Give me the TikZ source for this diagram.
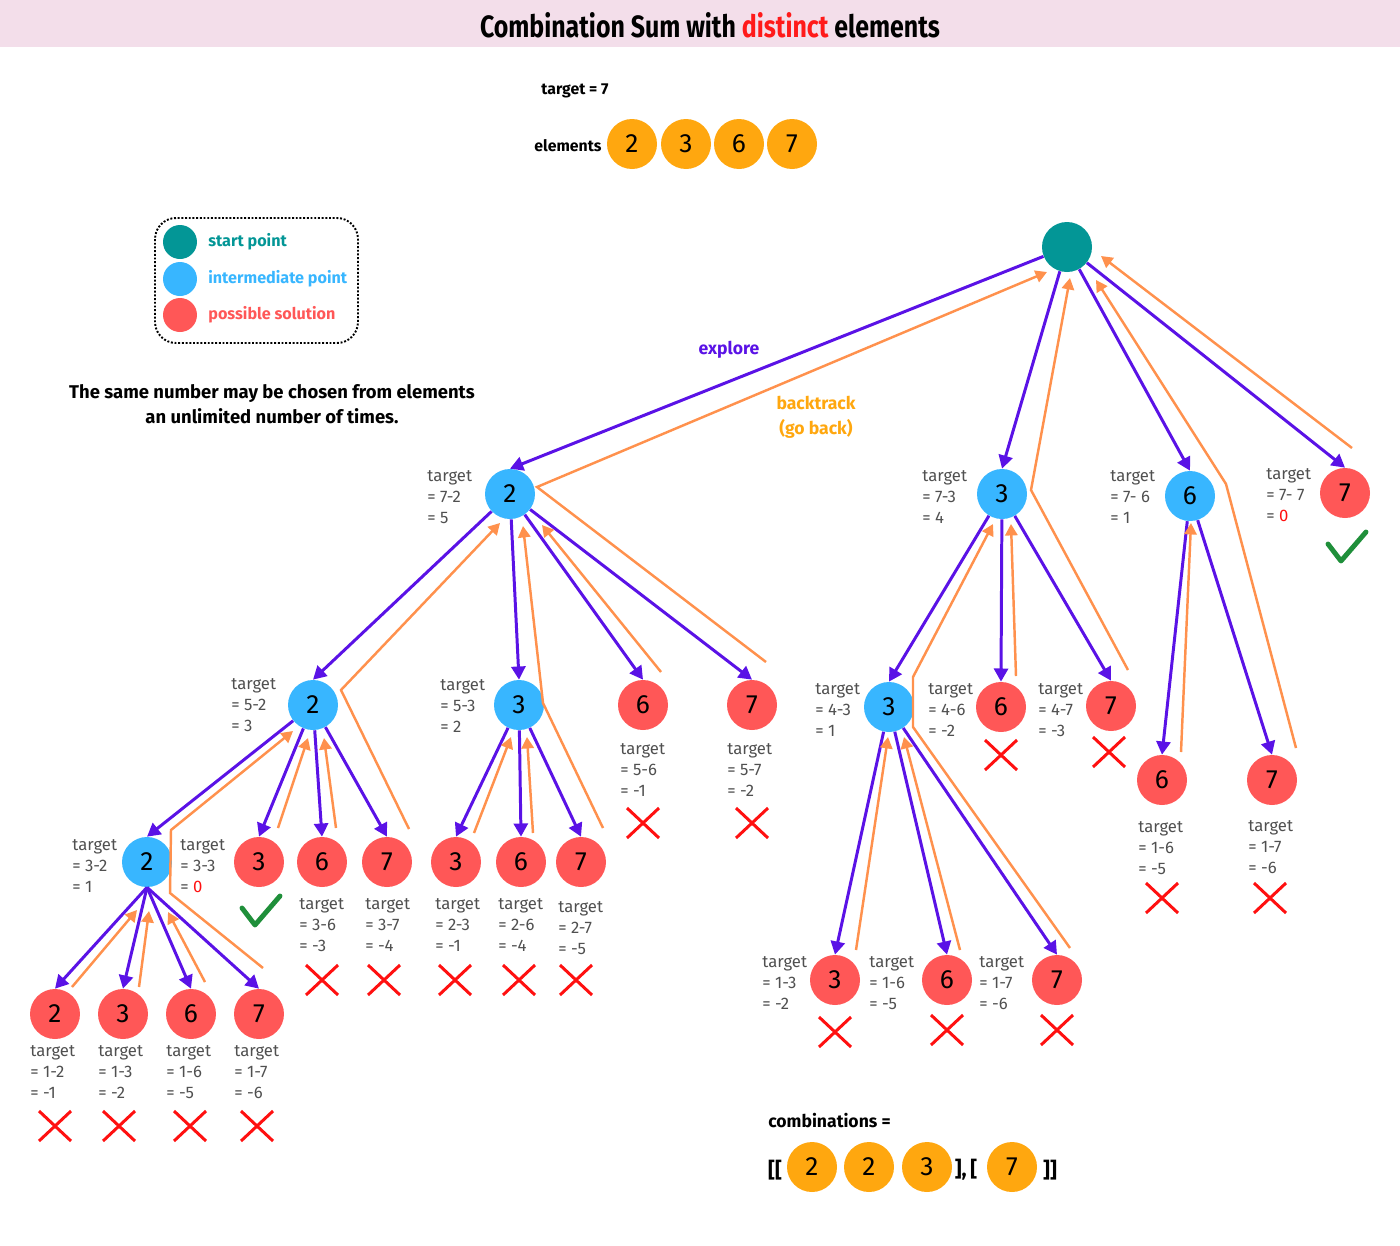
\documentclass[tikz,border=0pt]{standalone}
\usepackage{fontspec}
\setmainfont{Fira Sans}
\usetikzlibrary{arrows.meta}
\definecolor{teal0}{HTML}{039696}
\definecolor{blue0}{HTML}{38B6FF}
\definecolor{red0}{HTML}{FF5757}
\definecolor{elem}{HTML}{FFA70F}
\definecolor{purp}{HTML}{5A12E6}
\definecolor{oran}{HTML}{FF914D}
\definecolor{gray0}{HTML}{505050}
\definecolor{pinkbg}{HTML}{F3DEEA}
\definecolor{chk}{HTML}{1F8F3A}
\definecolor{xred}{HTML}{FF1010}
\definecolor{tred}{HTML}{FF1A1A}
\begin{document}
\begin{tikzpicture}[x=0.02cm,y=-0.02cm,
  num/.style={circle, minimum size=1cm, inner sep=0pt, font=\fontsize{15}{15}\selectfont},
  startpt/.style={num, fill=teal0},
  inter/.style={num, fill=blue0},
  sol/.style={num, fill=red0},
  elemc/.style={num, fill=elem},
  legc/.style={circle, minimum size=0.68cm, inner sep=0pt},
  explore/.style={draw=purp, line width=1.7pt, -{Triangle[length=7.5pt,width=8pt]}},
  back/.style={draw=oran, line width=1.4pt, line join=miter, -{Triangle[length=6.5pt,width=7pt]}},
  lbl/.style={text=gray0, align=left, anchor=west, inner sep=0pt, font=\fontsize{9.5}{11.9}\selectfont},
  txt/.style={inner sep=0pt, font=\bfseries\fontsize{10}{12}\selectfont},
  xm/.pic={\draw[xred, line width=1.7pt] (-16,-15) -- (16,15) (-16,15) -- (16,-15);},
  ck/.pic={\draw[chk, line width=2.8pt, line cap=round, line join=round] (-19,-2) -- (-6,15) -- (19,-14);}
]
\useasboundingbox (0,0) rectangle (1400,1245);
% title band
\fill[pinkbg] (0,0) rectangle (1400,47);
\node[inner sep=0pt] (title) at (710,25) {\resizebox{9.2cm}{0.5cm}{\bfseries Combination Sum with \textcolor{tred}{distinct} elements}};

% header
\node[txt, text=black, font=\bfseries\fontsize{9}{11}\selectfont] (tgt) at (575,91) {target = 7};
\node[txt, text=black, font=\bfseries\fontsize{9}{11}\selectfont] (elt) at (568,146) {elements};
\node[elemc] (el1) at (632,144) {2};
\node[elemc] (el2) at (686,144) {3};
\node[elemc] (el3) at (739,144) {6};
\node[elemc] (el4) at (792,144) {7};

% legend
\draw[densely dotted, line width=1.1pt, rounded corners=12pt] (155,218) rectangle (358,343);
\node[legc, fill=teal0] (lg1) at (180,242) {};
\node[legc, fill=blue0] (lg2) at (180,279) {};
\node[legc, fill=red0] (lg3) at (180,315) {};
\node[txt, anchor=west, text=teal0, font=\bfseries\fontsize{9.2}{11}\selectfont] (lt1) at (208,242) {start point};
\node[txt, anchor=west, text=blue0, font=\bfseries\fontsize{9.2}{11}\selectfont] (lt2) at (208,279) {intermediate point};
\node[txt, anchor=west, text=red0, font=\bfseries\fontsize{9.2}{11}\selectfont] (lt3) at (208,315) {possible solution};

\node[inner sep=0pt, align=center, font=\bfseries\fontsize{10.5}{14.5}\selectfont] (note) at (272,404) {The same number may be chosen from elements\\an unlimited number of times.};

\node[txt, text=purp] (expl) at (729,350) {explore};
\node[txt, text=elem, align=center, font=\bfseries\fontsize{10}{14}\selectfont] (bt) at (816,417) {backtrack\\(go back)};

% tree nodes
\node[startpt] (root) at (1067,247) {};
\node[inter] (a2) at (510,494) {2};
\node[inter] (a3) at (1002,494) {3};
\node[inter] (a6) at (1190,496) {6};
\node[sol] (a7) at (1345,493) {7};
\node[inter] (b2) at (313,705) {2};
\node[inter] (b3) at (519,705) {3};
\node[sol] (b6) at (643,705) {6};
\node[sol] (b7) at (752,705) {7};
\node[inter] (c3) at (889,707) {3};
\node[sol] (c6) at (1001,707) {6};
\node[sol] (c7) at (1111,706) {7};
\node[sol] (d6) at (1162,780) {6};
\node[sol] (d7) at (1272,780) {7};
\node[inter] (e2) at (147,862) {2};
\node[sol] (e3) at (259,862) {3};
\node[sol] (e6) at (322,862) {6};
\node[sol] (e7) at (387,862) {7};
\node[sol] (f3) at (456,862) {3};
\node[sol] (f6) at (521,862) {6};
\node[sol] (f7) at (581,862) {7};
\node[sol] (g3) at (835,980) {3};
\node[sol] (g6) at (947,980) {6};
\node[sol] (g7) at (1057,980) {7};
\node[sol] (h2) at (55,1014) {2};
\node[sol] (h3) at (123,1014) {3};
\node[sol] (h6) at (191,1014) {6};
\node[sol] (h7) at (259,1014) {7};

% explore edges
\foreach \p/\c in {root/a2,root/a3,root/a6,root/a7,a2/b2,a2/b3,a2/b6,a2/b7,a3/c3,a3/c6,a3/c7,a6/d6,a6/d7,b2/e2,b2/e3,b2/e6,b2/e7,b3/f3,b3/f6,b3/f7,c3/g3,c3/g6,c3/g7}
  \draw[explore] (\p) -- (\c.north);
\foreach \c in {h2,h3,h6,h7}
  \draw[explore] (e2.south) -- (\c.north);

% backtrack paths
\coordinate (r1a) at (766,662); \coordinate (r1b) at (537,487); \coordinate (r1c) at (1047,272);
\draw[back] (r1a) -- (r1b) -- (r1c);
\coordinate (r2a) at (1128,670); \coordinate (r2b) at (1031,490); \coordinate (r2c) at (1070,278);
\draw[back] (r2a) -- (r2b) -- (r2c);
\coordinate (r3a) at (1296,748); \coordinate (r3b) at (1226,484); \coordinate (r3c) at (1096,280);
\draw[back] (r3a) -- (r3b) -- (r3c);
\coordinate (r4a) at (1352,448); \coordinate (r4b) at (1101,256);
\draw[back] (r4a) -- (r4b);
\coordinate (a1a) at (409,829); \coordinate (a1b) at (341,690); \coordinate (a1c) at (500,523);
\draw[back] (a1a) -- (a1b) -- (a1c);
\coordinate (a2a) at (603,828); \coordinate (a2b) at (543,703); \coordinate (a2c) at (523,526);
\draw[back] (a2a) -- (a2b) -- (a2c);
\coordinate (a3a) at (661,672); \coordinate (a3b) at (542,525);
\draw[back] (a3a) -- (a3b);
\coordinate (b1a) at (263,968); \coordinate (b1b) at (170,893); \coordinate (b1c) at (171,830); \coordinate (b1d) at (293,731);
\draw[back] (b1a) -- (b1b) -- (b1c) -- (b1d);
\coordinate (b2a) at (278,828); \coordinate (b2b) at (308,738);
\draw[back] (b2a) -- (b2b);
\coordinate (b3a) at (336,828); \coordinate (b3b) at (324,738);
\draw[back] (b3a) -- (b3b);
\coordinate (c1a) at (474,833); \coordinate (c1b) at (511,737);
\draw[back] (c1a) -- (c1b);
\coordinate (c2a) at (533,833); \coordinate (c2b) at (527,737);
\draw[back] (c2a) -- (c2b);
\coordinate (d1a) at (72,987); \coordinate (d1b) at (137,910);
\draw[back] (d1a) -- (d1b);
\coordinate (d2a) at (139,987); \coordinate (d2b) at (149,911);
\draw[back] (d2a) -- (d2b);
\coordinate (d3a) at (205,982); \coordinate (d3b) at (168,912);
\draw[back] (d3a) -- (d3b);
\coordinate (e1a) at (1070,948); \coordinate (e1b) at (913,727); \coordinate (e1c) at (913,677); \coordinate (e1d) at (993,524);
\draw[back] (e1a) -- (e1b) -- (e1c) -- (e1d);
\coordinate (e2a) at (1016,676); \coordinate (e2b) at (1011,524);
\draw[back] (e2a) -- (e2b);
\coordinate (f1a) at (856,950); \coordinate (f1b) at (888,737);
\draw[back] (f1a) -- (f1b);
\coordinate (f2a) at (960,950); \coordinate (f2b) at (904,737);
\draw[back] (f2a) -- (f2b);
\coordinate (g1a) at (1181,752); \coordinate (g1b) at (1191,523);
\draw[back] (g1a) -- (g1b);

% labels
\node[lbl] (la2) at (427,497) {target\\= 7-2\\= 5};
\node[lbl] (la3) at (922,497) {target\\= 7-3\\= 4};
\node[lbl] (la6) at (1110,497) {target\\= 7- 6\\= 1};
\node[lbl] (la7) at (1266,495) {target\\= 7- 7\\= \textcolor{xred}{0}};
\node[lbl] (lb2) at (231,705) {target\\= 5-2\\= 3};
\node[lbl] (lb3) at (440,706) {target\\= 5-3\\= 2};
\node[lbl] (lb6) at (620,770) {target\\= 5-6\\= -1};
\node[lbl] (lb7) at (727,770) {target\\= 5-7\\= -2};
\node[lbl] (lc3) at (815,710) {target\\= 4-3\\= 1};
\node[lbl] (lc6) at (928,710) {target\\= 4-6\\= -2};
\node[lbl] (lc7) at (1038,710) {target\\= 4-7\\= -3};
\node[lbl] (ld6) at (1138,848) {target\\= 1-6\\= -5};
\node[lbl] (ld7) at (1248,847) {target\\= 1-7\\= -6};
\node[lbl] (le2) at (72,866) {target\\= 3-2\\= 1};
\node[lbl] (le3) at (180,866) {target\\= 3-3\\= \textcolor{xred}{0}};
\node[lbl] (le6) at (299,925) {target\\= 3-6\\= -3};
\node[lbl] (le7) at (365,925) {target\\= 3-7\\= -4};
\node[lbl] (lf3) at (435,925) {target\\= 2-3\\= -1};
\node[lbl] (lf6) at (498,925) {target\\= 2-6\\= -4};
\node[lbl] (lf7) at (558,928) {target\\= 2-7\\= -5};
\node[lbl] (lg3l) at (762,983) {target\\= 1-3\\= -2};
\node[lbl] (lg6l) at (869,983) {target\\= 1-6\\= -5};
\node[lbl] (lg7l) at (979,983) {target\\= 1-7\\= -6};
\node[lbl] (lh2) at (30,1072) {target\\= 1-2\\= -1};
\node[lbl] (lh3) at (98,1072) {target\\= 1-3\\= -2};
\node[lbl] (lh6) at (166,1072) {target\\= 1-6\\= -5};
\node[lbl] (lh7) at (234,1072) {target\\= 1-7\\= -6};

% crosses and checks
\foreach \x/\y in {55/1126,119/1126,190/1126,257/1126,322/980,384/980,455/980,519/980,576/980,643/823,752/823,1001/755,1109/752,835/1032,947/1030,1057/1030,1162/898,1270/898}
  \pic at (\x,\y) {xm};
\pic at (261,910) {ck};
\pic at (1347,546) {ck};

% combinations
\node[txt, anchor=west, text=black] (comb) at (768,1121) {combinations =};
\node[txt, text=black, font=\bfseries\fontsize{12}{12}\selectfont] (br1) at (775,1170) {[[};
\node[elemc] (co1) at (812,1167) {2};
\node[elemc] (co2) at (869,1167) {2};
\node[elemc] (co3) at (927,1167) {3};
\node[txt, text=black, font=\bfseries\fontsize{12}{12}\selectfont] (br2) at (966,1170) {],\,[};
\node[elemc] (co4) at (1012,1167) {7};
\node[txt, text=black, font=\bfseries\fontsize{12}{12}\selectfont] (br3) at (1050,1170) {]]};
\end{tikzpicture}
\end{document}
